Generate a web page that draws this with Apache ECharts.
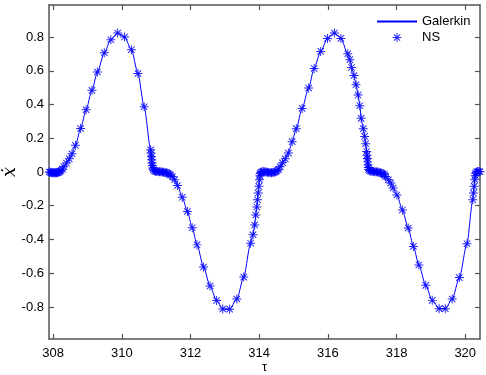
<!DOCTYPE html>
<html>
<head>
<meta charset="utf-8">
<script src="https://cdn.jsdelivr.net/npm/echarts@6/dist/echarts.min.js"></script>
<style>
html,body{margin:0;padding:0;background:#fff;}
#chart{width:486px;height:375px;}
</style>
</head>
<body>
<div id="chart"></div>
<script>
// NS samples (tau, x-dot)
const tau = [
307.89,307.92,307.95,307.98,308.01,308.04,308.07,308.10,308.13,308.16,308.19,308.23,308.27,308.31,
308.39,308.47,308.55,308.65,308.80,308.96,309.13,309.29,309.49,309.68,309.88,310.08,310.28,310.47,310.65,
310.84,310.85,310.86,310.87,310.88,310.89,310.90,310.92,310.95,310.98,311.02,311.06,311.10,311.14,311.18,
311.22,311.26,311.30,311.34,311.38,311.42,311.47,311.54,311.62,311.76,311.91,312.05,312.19,312.38,312.57,
312.76,312.94,313.14,313.35,313.55,313.75,313.82,313.87,313.90,313.93,313.95,313.97,313.99,314.01,314.02,
314.03,314.05,314.08,314.12,314.16,314.20,314.24,314.28,314.32,314.36,314.40,314.44,314.48,314.52,314.56,
314.61,314.68,314.76,314.85,314.96,315.08,315.25,315.44,315.60,315.79,315.99,316.19,316.38,316.58,316.64,
316.69,316.76,316.82,316.88,316.93,316.97,317.03,317.07,317.10,317.13,317.14,317.15,317.16,317.17,317.18,
317.19,317.22,317.25,317.29,317.33,317.37,317.41,317.45,317.49,317.53,317.57,317.61,317.65,317.68,317.76,
317.83,317.90,318.01,318.17,318.34,318.49,318.65,318.85,319.04,319.24,319.42,319.62,319.83,320.05,320.22,
320.24,320.26,320.28,320.29,320.30,320.33,320.36,320.40,320.43
];
const xdot = [
0.000,-0.002,-0.003,-0.004,-0.005,-0.005,-0.005,-0.004,-0.003,-0.001,0.002,0.008,0.017,0.031,
0.053,0.078,0.108,0.158,0.258,0.369,0.484,0.593,0.707,0.784,0.824,0.800,0.725,0.584,0.387,
0.132,0.112,0.092,0.072,0.054,0.038,0.024,0.013,0.007,0.004,0.003,0.003,0.002,0.001,0.000,
-0.001,-0.003,-0.005,-0.008,-0.012,-0.018,-0.027,-0.046,-0.080,-0.150,-0.234,-0.330,-0.432,-0.563,-0.676,
-0.762,-0.812,-0.813,-0.753,-0.623,-0.422,-0.372,-0.314,-0.255,-0.207,-0.164,-0.125,-0.085,-0.046,-0.022,
-0.008,-0.001,0.002,0.003,0.002,0.000,-0.002,-0.003,-0.004,-0.004,-0.003,-0.001,0.002,0.007,0.014,
0.031,0.055,0.078,0.112,0.180,0.257,0.377,0.498,0.614,0.715,0.792,0.824,0.792,0.701,0.666,
0.620,0.572,0.517,0.456,0.393,0.318,0.257,0.211,0.168,0.122,0.100,0.080,0.060,0.042,0.027,
0.015,0.008,0.005,0.004,0.003,0.002,0.001,0.000,-0.002,-0.004,-0.007,-0.011,-0.017,-0.026,-0.046,
-0.065,-0.095,-0.136,-0.225,-0.332,-0.441,-0.551,-0.672,-0.761,-0.810,-0.810,-0.753,-0.626,-0.425,-0.164,
-0.125,-0.085,-0.046,-0.020,-0.007,0.000,0.003,0.003,0.002
];
const xTicks = [308, 310, 312, 314, 316, 318, 320];
const yTicks = [-0.8, -0.6, -0.4, -0.2, 0, 0.2, 0.4, 0.6, 0.8];
const seriesNames = ['Galerkin', 'NS'];

const pts = tau.map((t, i) => [t, xdot[i]]);
const asterisk = 'path://M8.9 0H11.1V20H8.9Z M0 8.9H20V11.1H0Z M2.14 3.70L3.70 2.14L17.86 16.30L16.30 17.86Z M16.30 2.14L17.86 3.70L3.70 17.86L2.14 16.30Z';
const FONT = 'Liberation Sans, Arial, sans-serif';
const axisColor = '#555';
const BLUE = '#0000ff';

function mkX(pos, show) {
  return {
    type: 'value', position: pos, min: 307.88, max: 320.43,
    axisLine: { show: true, onZero: false, lineStyle: { color: axisColor, width: 1.5 } },
    axisTick: { show: true, inside: true, length: 5, customValues: xTicks, lineStyle: { color: axisColor, width: 1.2 } },
    axisLabel: { show: show, customValues: xTicks, color: '#000', fontSize: 13, fontFamily: FONT, margin: 8 },
    splitLine: { show: false },
    name: show ? 'τ' : '', nameLocation: 'middle', nameGap: 22, nameMoveOverlap: false,
    nameTextStyle: { color: '#000', fontSize: 13, fontFamily: FONT }
  };
}
function mkY(pos, show) {
  return {
    type: 'value', position: pos, min: -0.99, max: 0.99,
    axisLine: { show: true, onZero: false, lineStyle: { color: axisColor, width: 1.5 } },
    axisTick: { show: true, inside: true, length: 5, customValues: yTicks, lineStyle: { color: axisColor, width: 1.2 } },
    axisLabel: { show: show, customValues: yTicks, color: '#000', fontSize: 13, fontFamily: FONT, margin: 5 },
    splitLine: { show: false },
    name: show ? '\u1E8B' : '', nameLocation: 'middle', nameGap: 30, nameRotate: 90, nameMoveOverlap: false,
    nameTextStyle: { color: '#000', fontSize: 18, fontFamily: 'DejaVu Serif, serif', fontStyle: 'italic' }
  };
}

const chart = echarts.init(document.getElementById('chart'));
chart.setOption({
  animation: false,
  backgroundColor: '#fff',
  color: [BLUE, BLUE],
  grid: { left: 49, right: 6, top: 5, bottom: 36, containLabel: false, outerBoundsMode: 'none' },
  xAxis: [mkX('bottom', true), mkX('top', false)],
  yAxis: [mkY('left', true), mkY('right', false)],
  legend: {
    orient: 'vertical', left: 376, top: 15, padding: 0, itemGap: 3,
    itemWidth: 40, itemHeight: 11,
    textStyle: { color: '#000', fontSize: 13, fontFamily: FONT },
    data: [
      { name: seriesNames[0], itemStyle: { opacity: 0 } },
      { name: seriesNames[1] }
    ]
  },
  series: [
    {
      name: seriesNames[0], type: 'line', data: pts, symbol: 'none', smooth: 0.25, smoothMonotone: 'x',
      lineStyle: { color: BLUE, width: 1 }, itemStyle: { color: BLUE }, z: 2
    },
    {
      name: seriesNames[1], type: 'line', data: pts, symbol: asterisk, symbolSize: 9, symbolKeepAspect: true,
      showSymbol: true, showAllSymbol: true,
      lineStyle: { opacity: 0, width: 0 }, itemStyle: { color: BLUE, opacity: 0.85 }, z: 3
    }
  ]
});
</script>
</body>
</html>
